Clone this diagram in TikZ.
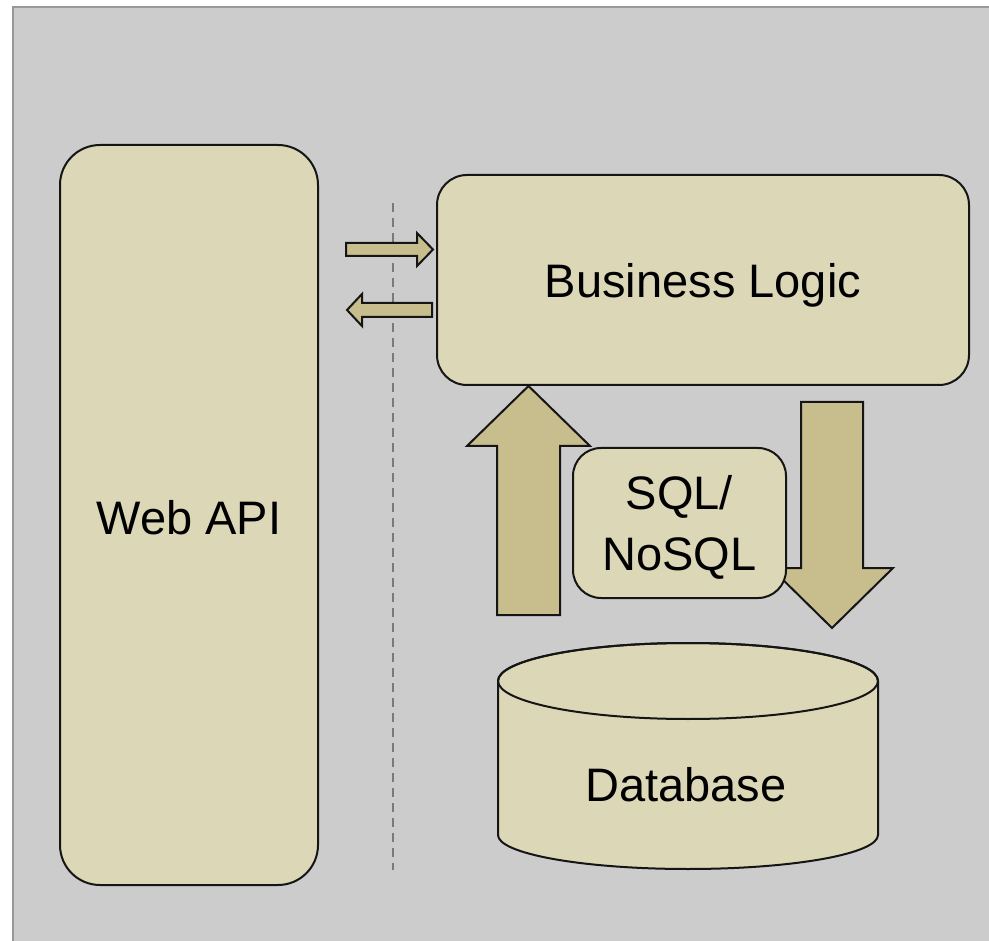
\documentclass[tikz,border=0pt]{standalone}
\usepackage{fontspec}
\setmainfont{Liberation Sans}
\definecolor{bggray}{HTML}{CCCCCC}
\definecolor{framegray}{HTML}{999999}
\definecolor{boxfill}{HTML}{DCD7B7}
\definecolor{arrowfill}{HTML}{C8BD8D}
\definecolor{edge}{HTML}{151515}
\definecolor{dashgray}{HTML}{7A7A7A}
\tikzset{
  box/.style={draw=edge, line width=2pt, fill=boxfill, rounded corners=#1,
    align=center, font=\fontsize{47}{61}\selectfont, inner sep=0pt},
  boxtext/.style={align=center, font=\fontsize{47}{61}\selectfont, inner sep=0pt},
  blockarrow/.style={draw=edge, line width=2pt, fill=arrowfill, line join=miter},
  sep/.style={draw=dashgray, line width=1.3pt, dash pattern=on 9pt off 6pt},
}
\begin{document}
\begin{tikzpicture}[x=1pt,y=1pt]
\useasboundingbox (0,0) rectangle (989,-941);
\fill[white] (0,0) rectangle (989,-941);
\fill[bggray] (13,-7) rectangle (989,-941);
\draw[framegray, line width=1.5pt] (13,-941) -- (13,-7) -- (989,-7);

% separator
\coordinate (sepTop) at (393,-203);
\coordinate (sepBot) at (393,-870);
\draw[sep] (sepTop) -- (sepBot);

% main boxes
\node[box=40pt, minimum width=258pt, minimum height=740pt,
  label={[boxtext, yshift=-3pt]center:Web API}] (api) at (189,-515) {};
\node[box=30pt, minimum width=532pt, minimum height=210pt,
  label={[boxtext, yshift=-5pt]center:Business Logic}] (logic) at (703,-280) {};

% small arrows between api and logic
\path[blockarrow] (346,-243) -- (417,-243) -- (417,-233) -- (433,-249.5) -- (417,-266) -- (417,-256) -- (346,-256) -- cycle;
\path[blockarrow] (432,-303) -- (362,-303) -- (362,-294) -- (347,-310) -- (362,-326) -- (362,-317) -- (432,-317) -- cycle;

% big up arrow (database -> logic)
\path[blockarrow] (497,-615) -- (497,-446) -- (467,-446) -- (528.5,-386) -- (590,-446) -- (560,-446) -- (560,-615) -- cycle;
% big down arrow (logic -> database)
\path[blockarrow] (801,-402) -- (863,-402) -- (863,-568) -- (893,-568) -- (832,-628) -- (771,-568) -- (801,-568) -- cycle;

% SQL box drawn over the arrows
\node[box=28pt, minimum width=213pt, minimum height=150pt,
  label={[boxtext, yshift=-4pt]center:SQL/\\NoSQL}] (sql) at (679.5,-523) {};

% database cylinder
\path[draw=edge, line width=2pt, fill=boxfill]
  (498,-681) -- (498,-835)
  arc[start angle=180, end angle=360, x radius=190, y radius=34]
  -- (878,-681)
  arc[start angle=0, end angle=180, x radius=190, y radius=38] -- cycle;
\draw[edge, line width=2pt] (688,-681) ellipse [x radius=190, y radius=38];
\node[boxtext] (db) at (686,-785) {Database};
\end{tikzpicture}
\end{document}
